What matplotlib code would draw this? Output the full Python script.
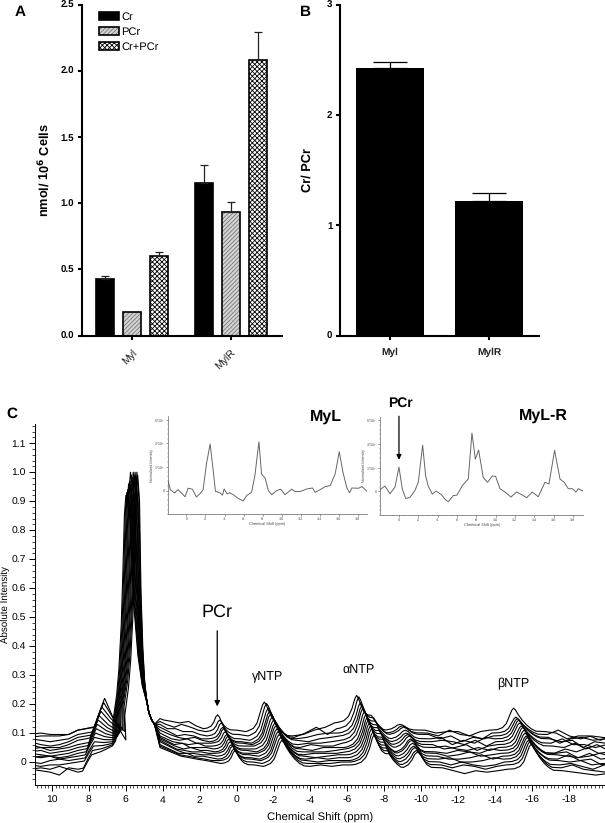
import numpy as np
import matplotlib
matplotlib.use("Agg")
import matplotlib.pyplot as plt
from matplotlib.patches import Patch
from matplotlib.legend_handler import HandlerTuple
from matplotlib.ticker import MultipleLocator

plt.rcParams["font.family"] = ["Liberation Sans", "DejaVu Sans"]
plt.rcParams["hatch.linewidth"] = 0.6
plt.rcParams["text.hinting"] = "no_hinting"
plt.rcParams["axes.unicode_minus"] = False
plt.rcParams["mathtext.default"] = "regular"

W, H = 605, 823

# panel A
groups = ["Myl", "MylR"]
cr = [0.43, 1.15]
cr_err = [0.02, 0.14]
pcr = [0.175, 0.93]
pcr_err = [0.0, 0.075]
total = [0.60, 2.08]
total_err = [0.03, 0.21]

# panel B
ratio = [2.42, 1.22]
ratio_err = [0.06, 0.07]

# inset spectra
myl_ppm = [1.93, 1.68, 1.23, 0.88, 0.53, 0.14, -0.18, -0.63, -1.05, -1.40, -1.75, -2.11, -2.49, -2.81, -3.05,
           -3.51, -3.79, -3.96, -4.28, -4.56, -4.91, -5.44, -5.96, -6.32, -6.84, -7.19, -7.61, -7.89, -8.25,
           -8.60, -8.95, -9.47, -9.89, -10.35, -11.05, -11.40, -11.93, -12.63, -13.23, -13.51, -14.04, -14.56,
           -15.09, -15.61, -16.04, -16.42, -16.84, -17.12, -17.37, -18.07, -18.42, -18.95]
myl_int = [0.43, 0.03, -0.10, 0.04, -0.10, -0.26, 0.10, 0.06, -0.27, -0.14, 0.03, 1.14, 1.97, 0.86, -0.03,
           -0.09, -0.19, 0.07, -0.14, -0.09, -0.17, -0.33, -0.44, -0.21, -0.07, 0.64, 2.06, 0.69, 0.54,
           0.0, -0.17, 0.0, 0.06, -0.17, 0.06, -0.04, -0.04, 0.07, 0.11, -0.07, 0.04, 0.17,
           0.21, 0.71, 1.64, 0.79, 0.11, -0.09, 0.11, 0.10, 0.17, -0.03]
mylr_ppm = [1.93, 1.45, 0.93, 0.41, 0.0, -0.34, -0.69, -1.14, -1.66, -2.0, -2.45, -2.76, -3.03, -3.45, -3.83,
            -4.41, -4.76, -5.10, -5.62, -6.0, -6.55, -7.17, -7.55, -7.90, -8.24, -8.72, -9.17, -9.66, -10.0,
            -10.45, -10.97, -11.59, -12.17, -12.69, -13.21, -13.79, -14.41, -15.10, -15.52, -16.10, -16.66,
            -17.10, -17.52, -17.93, -18.31, -18.55, -19.07]
mylr_int = [0.08, 0.22, -0.10, 0.18, 1.02, 0.11, -0.30, -0.26, 0.04, 0.38, 1.95, 0.65, 0.22, -0.12, 0.01,
            -0.14, -0.34, -0.44, -0.18, -0.16, 0.24, 0.52, 2.46, 1.36, 1.74, 0.58, 0.38, 0.65, 0.63,
            0.11, -0.03, -0.24, -0.03, -0.14, -0.27, -0.03, -0.23, 0.38, 0.31, 1.73, 0.52,
            0.38, 0.11, 0.11, -0.03, 0.11, 0.01]

# panel C, stacked spectra, rows go from the back trace to the front one (units 0.01)
left_ppm = [11.2, 10.6, 10.1, 9.6, 9.1, 8.6]
left_base = [
    [9.5, 10, 9.5, 9.5, 9.5, 11],
    [8.5, 9, 9, 9, 9.5, 11],
    [8, 7.5, 7, 7.5, 8, 9.5],
    [7, 6, 5.5, 6, 7, 8.5],
    [6, 5, 5, 5, 6, 7.5],
    [4.5, 5, 4, 4.5, 5, 6],
    [3.5, 4, 3, 3.5, 4, 5],
    [3, 2.5, 2, 2.5, 3, 4],
    [2, 1.5, 2, 1.5, 2, 3],
    [1.5, 2, 2, 1, 1.5, 2],
    [0, -0.5, 0.5, 1, 0.5, 1],
    [-1, -1.5, -1, -1, -0.5, 0],
    [-2.5, -3, -3.5, -4.5, -2, -2.5],
    [-2.5, -2, -2.5, -1.5, -2.5, -3.5],
]
right_ppm = [3.95, 3.5, 3.1, 2.6, 2.2, 1.8, 0, -0.5, -3, -3.6, -4.2, -4.8, -5.3,
             -10.2, -10.8, -11.4, -12, -12.6, -13.2, -13.7, -16.7, -17.3, -17.9, -18.5, -19.1, -19.7, -20.3]
right_base = [
    [14.5, 14, 13.5, 14, 12.5, 11.5, 11, 10.5, 9, 9.5, 11, 12, 13.5, 11, 10, 10.5, 10.5, 9, 10.5, 11, 10.5, 10, 8, 9, 9, 7.5, 9],
    [13, 12, 13, 12, 11, 10.5, 9.5, 9, 8.5, 10, 12, 9.5, 11.5, 10, 9, 11, 9.5, 9, 8, 10, 9.5, 11, 9, 8, 9, 8.5, 8],
    [11.5, 11.5, 10.5, 10.5, 9.5, 9, 8, 7.5, 8, 8.5, 9.5, 10, 10, 9.5, 8, 9, 7, 8.5, 8, 9, 8.5, 6.5, 8, 8.5, 7.5, 8, 7.5],
    [10.5, 9, 9.5, 9, 8, 8, 7, 6.5, 7.5, 7, 8, 8.5, 9, 8, 8.5, 6, 7.5, 6.5, 8.5, 8, 8, 7, 7.5, 5, 7, 6.5, 7],
    [9.5, 8.5, 8, 8.5, 7.5, 7, 6.5, 6, 6, 6.5, 6.5, 7, 7.5, 7, 7.5, 7, 6, 7.5, 5.5, 7, 6.5, 8, 6, 6, 5, 6, 5.5],
    [8, 7.5, 8, 6.5, 6.5, 6.5, 5.5, 5.5, 5, 6, 5.5, 5.5, 6.5, 6, 4.5, 5, 6, 4, 5.5, 6, 5.5, 5, 6.5, 4.5, 6, 4, 5],
    [7, 6.5, 6, 6.5, 5.5, 5.5, 4.5, 4.5, 4.5, 4, 5, 5, 5, 5, 5.5, 4.5, 4, 5, 4, 5, 3, 4.5, 3.5, 5, 3, 3.5, 4.5],
    [6, 6.5, 5, 5, 5, 4.5, 4, 3.5, 3.5, 3.5, 3.5, 4, 4.5, 3.5, 3, 4, 3.5, 3, 4.5, 4, 3, 3.5, 1.5, 2, 3, 2, 2.5],
    [5.5, 4.5, 5, 4, 4, 3.5, 3, 3, 2.5, 3, 3, 3, 3.5, 3, 2, 2.5, 3.5, 2, 2.5, 3, 2.5, 2, 1.5, 3, 1, 1.5, 1],
    [4.5, 4, 3.5, 3.5, 3, 3, 2.5, 2, 2, 1.5, 2, 2.5, 2.5, 2, 1, 1, 1.5, 2.5, 1, 2, 1, 2.5, 0.5, 1, -1, 0.5, 0],
    [4, 3, 3, 2.5, 2.5, 2, 1.5, 1, 1, 1.5, 1, 1.5, 1.5, 1, 1.5, 0, 0, 0.5, 1.5, 1, 0.5, 0, 0.5, -1, -0.5, -1, 0.5],
    [3, 3, 2, 2, 1.5, 1, 1, 0.5, 0.5, 0, 0.5, 0.5, 0.5, 0, -1, 0, -1, -1.5, -1, 0, -1, -0.5, -1.5, -2.5, -1, -2, -1.5],
    [2.5, 2, 1.5, 1, 0.5, 0.5, 0, -0.5, -0.5, -0.5, -0.5, 0, 0, -1, -2, -1, -1.5, -2.5, -1.5, -1, -2, -1, -2.5, -3, -3.5, -2, -3],
    [2, 1.5, 1, 0.5, 0, -0.5, -1, -1.5, -1.5, -1, -1.5, -1, -1, -2, -3, -4, -3, -3.5, -3, -2.5, -3, -3.5, -4, -4.5, -4, -3, -3.5],
]
shift = [0, 0.12, 0.2, 0.28, 0.33, 0.42, 0.5, 0.57, 0.62, 0.68, 0.74, 0.8, 0.88, 0.95]
shoulder_pos = [7.15, 7.2, 7.3, 7.35, 7.45, 7.5, 7.55, 7.6, 7.65, 7.7, 7.7, 7.75, 7.8, 7.85]
shoulder_top = [22, 20.5, 19, 17.5, 16, 14.5, 13, 11.5, 10, 8.5, 7, 5.5, 4, 2.5]
valley = [7, 10, 11, 10.5, 10, 9.5, 9, 8.5, 8, 7.5, 7, 6.5, 6, 5.5]
main_pos = [5.36, 5.4, 5.45, 5.5, 5.55, 5.6, 5.65, 5.7, 5.75, 5.8, 5.85, 5.9, 5.95, 6.0]
main_top = [99, 100, 98, 100, 99, 100, 98, 99, 100, 97, 96, 94, 93, 92]
tail_ppm = [4.75, 4.6, 4.45, 4.15]
tail_int = [
    [17, 14.5, 13, 15], [17, 14.5, 13, 14], [17, 14.5, 13, 13], [17, 14.5, 13, 12], [17, 14.5, 13, 11],
    [17, 14.5, 13, 10], [17, 14.5, 13, 9], [17, 14.5, 13, 8.5], [17, 14.5, 13, 8], [17, 14.5, 13, 7.5],
    [17, 14.5, 13, 7], [17, 14.5, 13, 6], [17, 14.5, 13, 5.5], [17, 14.5, 13, 5],
]
pcr_top = [16.3, 14.5, 13.5, 12, 11.5, 10.5, 9.5, 9, 8, 7, 6, 5.5, 4.5, 4]
gamma_top = [20.7, 20.2, 18.5, 17.5, 16.5, 15.5, 14.5, 13.5, 12.5, 11.5, 10.5, 9.5, 8.5, 7.5]
alpha_top = [23, 22.5, 20.5, 19.5, 18.5, 17.5, 16.5, 15.5, 14.5, 13.5, 12.5, 11.5, 10.5, 9.5]
alpha2_top = [13, 12.5, 12, 11, 10, 9.5, 9, 8, 7.5, 6.5, 5.5, 5, 4, 3.5]
beta_top = [18.6, 15.5, 15, 14.5, 13.5, 12.5, 12, 11, 10, 9, 8.5, 7.5, 7, 6.2]

# line shapes of the peaks (ppm from the top, fraction of the height)
shoulder_dx = [-0.5, -0.25, 0, 0.25, 0.5, 0.8, 1.15]
shoulder_fr = [0.1, 0.6, 1, 0.75, 0.5, 0.28, 0.05]
main_dx = [-0.7, -0.5, -0.38, -0.25, -0.15, -0.08, 0, 0.1, 0.18, 0.28, 0.38, 0.48]
main_fr = [0.1, 0.2, 0.3, 0.48, 0.72, 0.92, 1, 0.9, 0.55, 0.33, 0.2, 0.13]
small_dx = [-0.55, -0.35, -0.2, -0.1, 0, 0.1, 0.2, 0.35, 0.5, 0.7]
small_fr = [0.05, 0.2, 0.5, 0.85, 1, 0.85, 0.55, 0.28, 0.12, 0.02]
gamma_dx = [-0.9, -0.6, -0.4, -0.25, -0.1, 0, 0.1, 0.25, 0.45, 0.7, 0.95, 1.2]
gamma_fr = [0.02, 0.12, 0.3, 0.6, 0.9, 1, 0.92, 0.72, 0.5, 0.28, 0.12, 0.02]
alpha_dx = [-1, -0.7, -0.45, -0.25, -0.1, 0, 0.1, 0.25, 0.4, 0.6, 0.8, 1.0, 1.25, 1.45]
alpha_fr = [0.02, 0.1, 0.26, 0.55, 0.88, 1, 0.9, 0.68, 0.5, 0.42, 0.42, 0.25, 0.1, 0.02]
alpha2_dx = [-0.75, -0.5, -0.3, -0.15, 0, 0.15, 0.3, 0.5, 0.75]
alpha2_fr = [0.03, 0.2, 0.5, 0.85, 1, 0.85, 0.55, 0.2, 0.03]


def peak(center, dx, frac, top, b0, b1):
    dx = np.array(dx, dtype=float)
    frac = np.array(frac)
    t = (dx - dx[0]) / (dx[-1] - dx[0])
    line = b0 + (b1 - b0) * t
    y = line + (top - line[frac.argmax()]) * frac
    return center - dx, y


def build_trace(i):
    lb = left_base[i]
    k = right_base[i]
    s = shift[i]
    ppm = np.array(right_ppm) - s
    parts = [(np.array(left_ppm), np.array(lb, dtype=float))]
    parts.append(peak(shoulder_pos[i], shoulder_dx, shoulder_fr, shoulder_top[i], lb[-1], valley[i]))
    # right flanks of the main peak all end near 4.88 ppm
    scale = (main_pos[i] - 4.88) / main_dx[-1]
    dx = [d * scale if d > 0 else d for d in main_dx]
    parts.append(peak(main_pos[i], dx, main_fr, main_top[i], valley[i], 10))
    parts.append((np.array(tail_ppm), np.array(tail_int[i], dtype=float)))
    parts.append((ppm[:6], np.array(k[:6], dtype=float)))
    parts.append(peak(1.03 - s, small_dx, small_fr, pcr_top[i], k[5], k[6]))
    parts.append((ppm[6:8], np.array(k[6:8], dtype=float)))
    parts.append(peak(-1.5 - s, gamma_dx, gamma_fr, gamma_top[i], k[7], k[8]))
    parts.append((ppm[8:13], np.array(k[8:13], dtype=float)))
    parts.append(peak(-6.5 - s, alpha_dx, alpha_fr, alpha_top[i], k[12], k[13]))
    parts.append(peak(-8.85 - s, alpha2_dx, alpha2_fr, alpha2_top[i], k[13], k[13]))
    parts.append((ppm[13:20], np.array(k[13:20], dtype=float)))
    parts.append(peak(-15 - s, gamma_dx, gamma_fr, beta_top[i], k[19], k[20]))
    parts.append((ppm[20:], np.array(k[20:], dtype=float)))
    x = np.concatenate([p[0] for p in parts])
    y = np.concatenate([p[1] for p in parts]) / 100
    return x, y


def px_axes(fig, left, right, top, bottom):
    return fig.add_axes([left / W, 1 - bottom / H, (right - left) / W, (bottom - top) / H])


def fig_text(fig, x, y, s, **kw):
    fig.text(x / W, 1 - y / H, s, ha="center", va="center", **kw)


def bar_style(ax, lw=1.5):
    ax.spines["top"].set_visible(False)
    ax.spines["right"].set_visible(False)
    ax.spines["left"].set_linewidth(lw)
    ax.spines["bottom"].set_linewidth(lw)
    ax.tick_params(width=lw, length=3, pad=2.5)


fig = plt.figure(figsize=(W / 100, H / 100), dpi=100)

# A
ax_a = px_axes(fig, 82, 282, 4.5, 335.5)
x = np.arange(len(groups))
bw, off = 0.185, 0.272
ax_a.bar(x - off, cr, bw, color="k", edgecolor="k", linewidth=1.2)
ax_a.errorbar(x - off, cr, yerr=[[0, 0], cr_err], fmt="none", ecolor="#222222", elinewidth=0.9, capsize=3, capthick=0.9)
ax_a.bar(x, pcr, bw, color="#d4d4d4", edgecolor="#777777", hatch="////////", linewidth=0)
ax_a.bar(x, pcr, bw, fill=False, edgecolor="k", linewidth=1.2)
ax_a.errorbar(x[1:], pcr[1:], yerr=[[0], pcr_err[1:]], fmt="none", ecolor="#222222", elinewidth=0.9, capsize=3, capthick=0.9)
ax_a.bar(x + off, total, bw, color="white", edgecolor="k", hatch="xxxxxxx", linewidth=0)
ax_a.bar(x + off, total, bw, fill=False, edgecolor="k", linewidth=1.2)
ax_a.errorbar(x + off, total, yerr=[[0, 0], total_err], fmt="none", ecolor="#222222", elinewidth=0.9, capsize=3, capthick=0.9)
ax_a.set_xlim(-0.505, 1.515)
ax_a.set_ylim(0, 2.5)
ax_a.set_yticks([0, 0.5, 1.0, 1.5, 2.0, 2.5])
ax_a.set_yticklabels(["0.0", "0.5", "1.0", "1.5", "2.0", "2.5"], fontsize=7, fontweight="bold")
ax_a.set_xticks(x)
ax_a.set_xticklabels(groups, rotation=45, fontsize=7.6, color="#222222", ha="right", rotation_mode="anchor")
ax_a.set_ylabel("nmol/ 10$\\mathbf{^6}$ Cells", fontsize=9.2, fontweight="bold", labelpad=7)
bar_style(ax_a)
ax_a.tick_params(axis="x", pad=6)
handles = [
    Patch(facecolor="k", edgecolor="k", linewidth=1.2),
    (Patch(facecolor="#d4d4d4", edgecolor="#777777", hatch="////////", linewidth=0), Patch(fill=False, edgecolor="k", linewidth=1.2)),
    (Patch(facecolor="white", edgecolor="k", hatch="xxxxxxx", linewidth=0), Patch(fill=False, edgecolor="k", linewidth=1.2)),
]
ax_a.legend(handles, ["Cr", "PCr", "Cr+PCr"], handler_map={tuple: HandlerTuple(ndivide=1, pad=0)},
            loc="upper left", bbox_to_anchor=(0.045, 1.0), frameon=False, fontsize=8,
            handlelength=1.8, handleheight=0.7, handletextpad=0.25, labelspacing=0.4, borderpad=0.2)

# B
ax_b = px_axes(fig, 340, 539, 4.5, 335.5)
ax_b.bar(x, ratio, 0.68, color="k")
ax_b.errorbar(x, ratio, yerr=[[0, 0], ratio_err], fmt="none", ecolor="k", elinewidth=0.9, capsize=12, capthick=0.9)
ax_b.set_xlim(-0.505, 1.505)
ax_b.set_ylim(0, 3)
ax_b.set_yticks([0, 1, 2, 3])
ax_b.set_yticklabels(["0", "1", "2", "3"], fontsize=7, fontweight="bold")
ax_b.set_xticks(x)
ax_b.set_xticklabels(groups, fontsize=7.3, fontweight="bold", color="#222222")
ax_b.set_ylabel("Cr/ PCr", fontsize=9.2, fontweight="bold", labelpad=10)
bar_style(ax_b)
ax_b.tick_params(axis="x", pad=6)

# C
ax_c = px_axes(fig, 35, 605, 424, 785)
for i in range(len(shift)):
    xs, ys = build_trace(i)
    ax_c.plot(xs, ys, color="k", lw=0.8)
ax_c.set_xlim(10.92, -19.95)
ax_c.set_ylim(-0.0793, 1.1665)
ax_c.xaxis.set_major_locator(MultipleLocator(2))
ax_c.xaxis.set_minor_locator(MultipleLocator(0.2))
ax_c.set_yticks(np.arange(0, 1.15, 0.1))
ax_c.set_yticklabels(["0", "0.1", "0.2", "0.3", "0.4", "0.5", "0.6", "0.7", "0.8", "0.9", "1.0", "1.1"])
ax_c.yaxis.set_minor_locator(MultipleLocator(0.02))
ax_c.spines["top"].set_visible(False)
ax_c.spines["right"].set_visible(False)
ax_c.spines["left"].set_linewidth(0.7)
ax_c.spines["bottom"].set_linewidth(0.7)
ax_c.tick_params(which="major", length=4, width=0.7, labelsize=7.5, pad=2.5)
ax_c.tick_params(axis="x", which="major", pad=4)
ax_c.tick_params(which="minor", length=2.2, width=0.5)
ax_c.set_xlabel("Chemical Shift (ppm)", fontsize=8.2, labelpad=5.5)
ax_c.set_ylabel("Absolute Intensity", fontsize=7, labelpad=1)
ax_c.patch.set_alpha(0)
ax_c.annotate("", xy=(1.05, 0.192), xytext=(1.05, 0.453),
              arrowprops=dict(arrowstyle="-|>", color="k", lw=0.9, mutation_scale=8, shrinkA=0, shrinkB=0))
ax_c.text(1.05, 0.518, "PCr", fontsize=13, ha="center", va="center")
ax_c.text(-1.65, 0.295, "γNTP", fontsize=9, ha="center", va="center")
ax_c.text(-6.6, 0.315, "αNTP", fontsize=9, ha="center", va="center")
ax_c.text(-15, 0.27, "βNTP", fontsize=9, ha="center", va="center")

# insets
for rect, px, py, xl in [((168, 367, 416, 514.3), myl_ppm, myl_int, (1.93, -18.95)),
                         ((380.3, 583.3, 416.7, 515), mylr_ppm, mylr_int, (1.93, -19.07))]:
    ins = px_axes(fig, *rect)
    ins.plot(px, py, color="#666666", lw=0.7)
    ins.set_xlim(*xl)
    ins.set_ylim(-1.0, 3.15)
    ins.patch.set_alpha(0)
    ins.spines["top"].set_visible(False)
    ins.spines["right"].set_visible(False)
    ins.spines["left"].set_color("#666666")
    ins.spines["bottom"].set_color("#666666")
    ins.spines["left"].set_linewidth(0.5)
    ins.spines["bottom"].set_linewidth(0.5)
    ins.set_xticks(np.arange(-18, 1, 2))
    ins.set_xticklabels([str(v) for v in range(-18, 1, 2)])
    ins.xaxis.set_minor_locator(MultipleLocator(0.5))
    ins.set_yticks([0, 1, 2, 3])
    ins.set_yticklabels(["0", "1*10$^7$", "3*10$^7$", "5*10$^7$"])
    ins.yaxis.set_minor_locator(MultipleLocator(0.2))
    ins.tick_params(which="major", length=1.5, width=0.4, labelsize=2.6, pad=0.8, colors="#444444")
    ins.tick_params(which="minor", length=0.8, width=0.3, colors="#666666")
    ins.set_xlabel("Chemical Shift (ppm)", fontsize=2.8, labelpad=1, color="#444444")
    ins.set_ylabel("Normalized Intensity", fontsize=2.6, labelpad=0, color="#444444")
    if px is mylr_ppm:
        ins.annotate("", xy=(0, 1.33), xytext=(0, 3.17), annotation_clip=False,
                     arrowprops=dict(arrowstyle="-|>", color="k", lw=0.9, mutation_scale=7, shrinkA=0, shrinkB=0))

fig_text(fig, 20, 12.5, "A", fontsize=11, fontweight="bold")
fig_text(fig, 305, 12.5, "B", fontsize=11, fontweight="bold")
fig_text(fig, 12, 414, "C", fontsize=11, fontweight="bold")
fig_text(fig, 326, 417, "MyL", fontsize=11.5, fontweight="bold")
fig_text(fig, 543, 416, "MyL-R", fontsize=11.5, fontweight="bold")
fig_text(fig, 400, 403, "PCr", fontsize=10, fontweight="bold")

fig.savefig("out.png", dpi=100)
